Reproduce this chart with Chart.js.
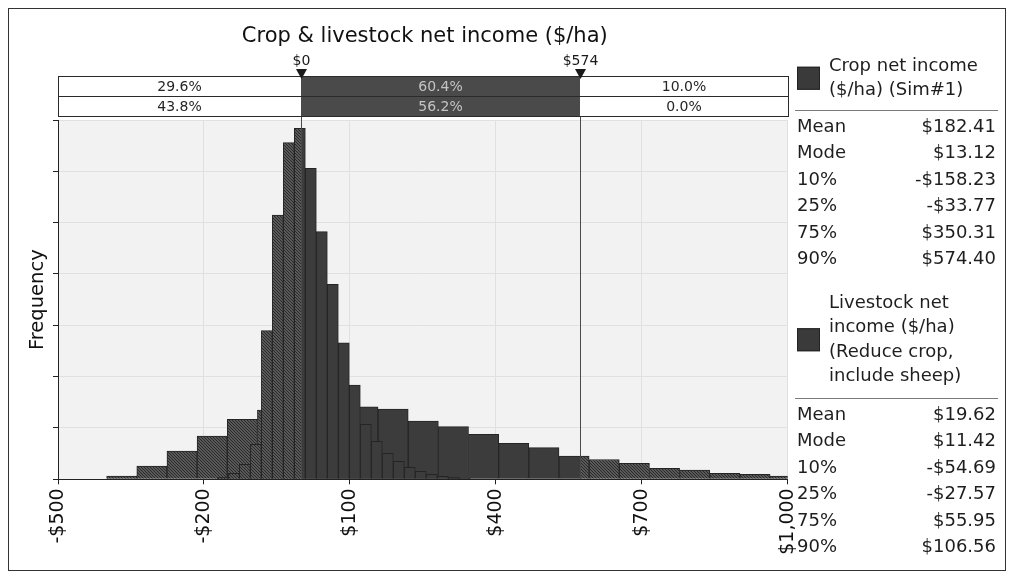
<!DOCTYPE html>
<html>
<head>
<meta charset="utf-8">
<script src="https://cdn.jsdelivr.net/npm/chart.js@4.4.1/dist/chart.umd.min.js"></script>
<style>
  html, body { margin: 0; padding: 0; background: #ffffff; }
  #wrap { width: 1009px; height: 578px; position: relative; }
  canvas { display: block; }
</style>
</head>
<body>
<div id="wrap"><canvas id="c" width="1009" height="578"></canvas></div>
<script>
// ---- Crop net income ($/ha) (Sim#1): histogram bins ----
const cropBinStart = -400;   // left edge of first bin, $/ha
const cropBinWidth = 62;     // $/ha per bin
const cropFreq = [0.064, 0.259, 0.551, 0.844, 1.169, 1.350, 1.520, 1.442, 1.414, 1.370,
                  1.136, 1.025, 0.877, 0.701, 0.616, 0.454, 0.386, 0.312, 0.214, 0.181,
                  0.117, 0.097, 0.064];

// ---- Livestock net income ($/ha) (Reduce crop, include sheep) ----
const stockBinStart = -172.3;
const stockBinWidth = 22.6;
const stockFreq = [0.039, 0.117, 0.292, 0.682, 2.895, 5.149, 6.558, 6.838, 6.059, 4.824,
                   3.799, 2.661, 1.837, 1.071, 0.740, 0.507, 0.351, 0.234, 0.156, 0.097,
                   0.058, 0.039, 0.019];

// ---- Axes ----
const xTickValues = [-500, -200, 100, 400, 700, 1000];
const xTickLabels = ['-$500', '-$200', '$100', '$400', '$700', '$1,000'];

// ---- Delimiters and shares of each series in the three regions ----
const delimiters = [0, 574];
const delimiterLabels = ['$0', '$574'];
const cropShares = ['29.6%', '60.4%', '10.0%'];
const stockShares = ['43.8%', '56.2%', '0.0%'];

// ---- Summary statistics ----
const statLabels = ['Mean', 'Mode', '10%', '25%', '75%', '90%'];
const cropStats = ['$182.41', '$13.12', '-$158.23', '-$33.77', '$350.31', '$574.40'];
const stockStats = ['$19.62', '$11.42', '-$54.69', '-$27.57', '$55.95', '$106.56'];
const cropName = ['Crop net income', '($/ha) (Sim#1)'];
const stockName = ['Livestock net', 'income ($/ha)', '(Reduce crop,', 'include sheep)'];

const FONT = '"DejaVu Sans", Verdana, sans-serif';
const SOLID = '#3c3c3c';
const EDGE = '#242424';

function binPoints(start, width, freq) {
  return freq.map((f, i) => ({ x: start + width * (i + 0.5), y: f }));
}

// Solid fill between the delimiters, diagonal hatching outside them
const fillCache = {};
function regionFill(chart) {
  const xs = chart.scales.x;
  if (!xs || !chart.chartArea) return SOLID;
  const x0 = Math.round(xs.getPixelForValue(delimiters[0]));
  const x1 = Math.round(xs.getPixelForValue(delimiters[1]));
  const key = [chart.width, chart.height, x0, x1].join('|');
  if (fillCache[key]) return fillCache[key];
  const cv = document.createElement('canvas');
  cv.width = chart.width; cv.height = chart.height;
  const g = cv.getContext('2d');
  g.fillStyle = '#858585';
  g.fillRect(0, 0, cv.width, cv.height);
  g.strokeStyle = '#2a2a2a';
  g.lineWidth = 1.4;
  g.beginPath();
  for (let d = -cv.height; d < cv.width; d += 3) {
    g.moveTo(d, 0);
    g.lineTo(d + cv.height, cv.height);
  }
  g.stroke();
  g.fillStyle = SOLID;
  g.fillRect(x0, 0, x1 - x0, cv.height);
  const p = chart.ctx.createPattern(cv, 'no-repeat');
  fillCache[key] = p;
  return p;
}

const plotBackground = {
  id: 'plotBackground',
  beforeDraw(chart) {
    const { ctx, chartArea: a } = chart;
    ctx.save();
    ctx.fillStyle = '#f2f2f2';
    ctx.fillRect(a.left, a.top, a.right - a.left, a.bottom - a.top);
    ctx.restore();
  }
};

function drawStatBlock(ctx, names, nameTop, stats, sepY, rowTop) {
  const lineGap = 24.5, rowGap = 26.5;
  ctx.font = '18px ' + FONT;
  ctx.fillStyle = '#1e1e1e';
  ctx.textBaseline = 'middle';
  ctx.textAlign = 'left';
  names.forEach((t, i) => ctx.fillText(t, 829, nameTop + i * lineGap));
  const mid = nameTop + (names.length - 1) * lineGap / 2;
  ctx.fillStyle = '#3a3a3a';
  ctx.fillRect(797, mid - 11.5, 23, 23);
  ctx.strokeStyle = '#222';
  ctx.lineWidth = 1;
  ctx.strokeRect(797.5, mid - 11, 22, 22);
  ctx.strokeStyle = '#7a7a7a';
  ctx.beginPath();
  ctx.moveTo(795, sepY + 0.5);
  ctx.lineTo(998, sepY + 0.5);
  ctx.stroke();
  ctx.fillStyle = '#1e1e1e';
  statLabels.forEach((lab, i) => {
    const y = rowTop + i * rowGap;
    ctx.textAlign = 'left';
    ctx.fillText(lab, 797, y);
    ctx.textAlign = 'right';
    ctx.fillText(stats[i], 996, y);
  });
}

const decorations = {
  id: 'decorations',
  afterDatasetsDraw(chart) {
    const { ctx, chartArea: a, scales } = chart;
    ctx.save();
    ctx.strokeStyle = '#4a4a4a';
    ctx.lineWidth = 1;
    delimiters.forEach(v => {
      const x = Math.round(scales.x.getPixelForValue(v)) + 0.5;
      ctx.beginPath();
      ctx.moveTo(x, 76);
      ctx.lineTo(x, a.bottom);
      ctx.stroke();
    });
    ctx.restore();
  },
  afterDraw(chart) {
    const { ctx, chartArea: a, scales } = chart;
    const xa = Math.round(scales.x.getPixelForValue(delimiters[0]));
    const xb = Math.round(scales.x.getPixelForValue(delimiters[1]));
    ctx.save();

    // Title
    ctx.font = '21px ' + FONT;
    ctx.fillStyle = '#111';
    ctx.textAlign = 'center';
    ctx.textBaseline = 'middle';
    ctx.fillText('Crop & livestock net income ($/ha)', (a.left + a.right) / 2 + 2, 37);

    // Delimiter bars
    const rows = [[76, 96, cropShares], [96, 116, stockShares]];
    const L = Math.round(a.left), R = Math.round(a.right);
    rows.forEach(([top, bot, shares]) => {
      const h = bot - top;
      ctx.fillStyle = '#ffffff';
      ctx.fillRect(L, top, xa - L, h);
      ctx.fillRect(xb, top, R - xb, h);
      ctx.fillStyle = '#4a4a4a';
      ctx.fillRect(xa, top, xb - xa, h);
      ctx.strokeStyle = '#2a2a2a';
      ctx.lineWidth = 1;
      ctx.strokeRect(L + 0.5, top + 0.5, R - L, h);
      ctx.font = '14px ' + FONT;
      ctx.textAlign = 'center';
      ctx.textBaseline = 'middle';
      ctx.fillStyle = '#262626';
      ctx.fillText(shares[0], (L + xa) / 2, top + h / 2 + 1);
      ctx.fillText(shares[2], (xb + R) / 2, top + h / 2 + 1);
      ctx.fillStyle = '#c4c4c4';
      ctx.fillText(shares[1], (xa + xb) / 2, top + h / 2 + 1);
    });

    // Delimiter markers
    [xa, xb].forEach((x, i) => {
      ctx.fillStyle = '#1a1a1a';
      ctx.font = '14px ' + FONT;
      ctx.textAlign = 'center';
      ctx.textBaseline = 'middle';
      ctx.fillText(delimiterLabels[i], x + 0.5, 61);
      ctx.beginPath();
      ctx.moveTo(x - 5, 69);
      ctx.lineTo(x + 6, 69);
      ctx.lineTo(x + 0.5, 79);
      ctx.closePath();
      ctx.fill();
    });

    // Statistics panel
    drawStatBlock(ctx, cropName, 66, cropStats, 110, 127);
    drawStatBlock(ctx, stockName, 303, stockStats, 398, 415);

    // Outer frame
    ctx.strokeStyle = '#333';
    ctx.lineWidth = 1;
    ctx.strokeRect(8.5, 8.5, 997, 562);
    ctx.restore();
  }
};

new Chart(document.getElementById('c'), {
  type: 'bar',
  data: {
    datasets: [
      {
        label: stockName.join(' '),
        data: binPoints(stockBinStart, stockBinWidth, stockFreq),
        xAxisID: 'x2',
        order: 0,
        grouped: false,
        barPercentage: 1,
        categoryPercentage: 1,
        backgroundColor: c => regionFill(c.chart),
        borderColor: EDGE,
        borderWidth: 1
      },
      {
        label: cropName.join(' '),
        data: binPoints(cropBinStart, cropBinWidth, cropFreq),
        xAxisID: 'x',
        order: 1,
        grouped: false,
        barPercentage: 1,
        categoryPercentage: 1,
        backgroundColor: c => regionFill(c.chart),
        borderColor: EDGE,
        borderWidth: 1
      }
    ]
  },
  options: {
    responsive: false,
    animation: false,
    events: [],
    layout: { padding: { left: 0, top: 120, right: 221.4, bottom: 0 } },
    plugins: { legend: { display: false }, tooltip: { enabled: false }, title: { display: false } },
    scales: {
      x: {
        type: 'linear',
        position: 'bottom',
        offset: false,
        min: -500,
        max: 1000,
        afterBuildTicks: s => { s.ticks = xTickValues.map(v => ({ value: v })); },
        afterFit: s => { s.height = 98.7; },
        ticks: {
          minRotation: 90,
          maxRotation: 90,
          padding: 4,
          color: '#111',
          font: { family: FONT, size: 19 },
          callback: v => xTickLabels[xTickValues.indexOf(v)]
        },
        grid: { offset: false, color: '#e0e0e0', tickColor: '#222', tickLength: 5, drawTicks: true },
        border: { display: true, color: '#222', width: 1 }
      },
      x2: {
        type: 'linear',
        display: false,
        offset: false,
        min: -500,
        max: 1000,
        grid: { offset: false },
        ticks: { stepSize: 300 }
      },
      y: {
        type: 'linear',
        min: 0,
        max: 7,
        afterFit: s => { s.width = 58; },
        ticks: { display: false, stepSize: 1 },
        grid: { color: '#e0e0e0', tickColor: '#222', tickLength: 5, drawTicks: true },
        border: { display: true, color: '#222', width: 1 },
        title: {
          display: true,
          text: 'Frequency',
          color: '#111',
          font: { family: FONT, size: 19.5 },
          padding: { top: 26, bottom: 0 }
        }
      }
    }
  },
  plugins: [plotBackground, decorations]
});
</script>
</body>
</html>
